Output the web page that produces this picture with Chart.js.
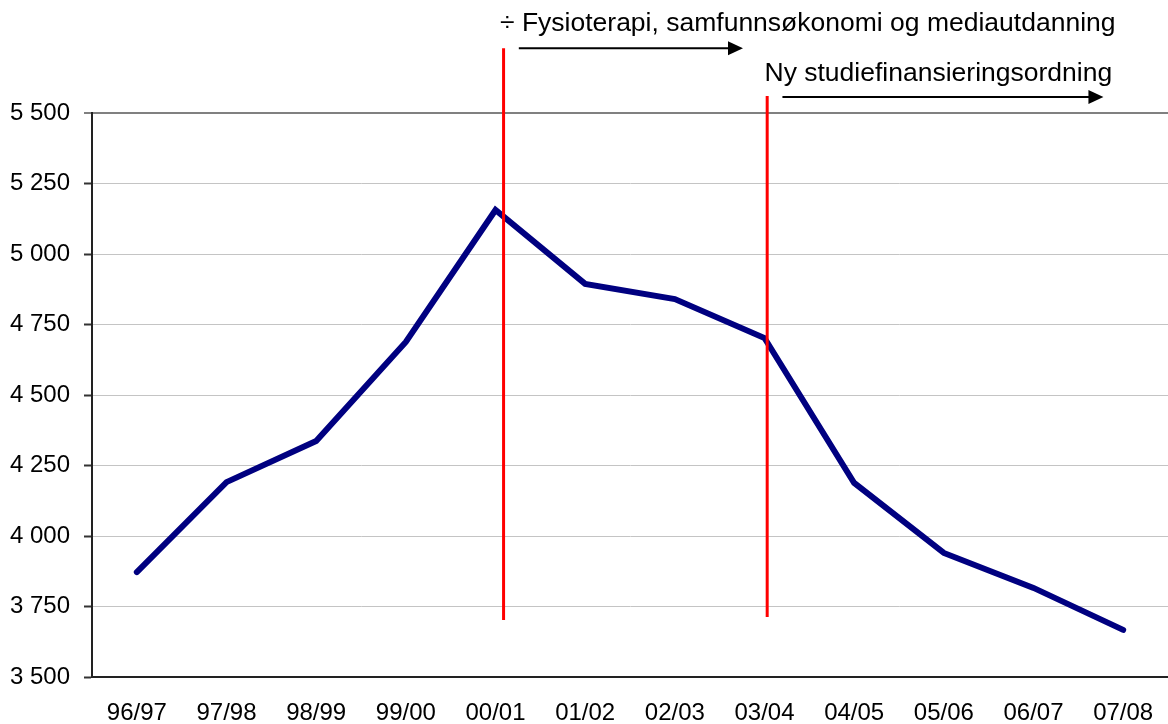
<!DOCTYPE html>
<html>
<head>
<meta charset="utf-8">
<script src="https://cdn.jsdelivr.net/npm/chart.js@4.4.0/dist/chart.umd.min.js"></script>
<style>
  html, body { margin: 0; padding: 0; background: #fff; }
  canvas { display: block; }
</style>
</head>
<body>
<canvas id="line-chart" width="1168" height="724"></canvas>
<script>
// school years
var years = ['96/97','97/98','98/99','99/00','00/01','01/02','02/03','03/04','04/05','05/06','06/07','07/08'];
// number of applicants
var applicants = [3872, 4191, 4337, 4688, 5156, 4894, 4840, 4702, 4188, 3940, 3816, 3667];
var yTicks = [3500, 3750, 4000, 4250, 4500, 4750, 5000, 5250, 5500];

// red marker lines: category position, from value, to value
var markerAt = [4.09, 7.03];
var markerTop = [5730, 5560];
var markerBottom = [3702, 3713];

// annotation texts and arrows (x in category units, y in axis values)
var noteTexts = ['\u00f7 Fysioterapi, samfunns\u00f8konomi og mediautdanning', 'Ny studiefinansieringsordning'];
var noteTextX = [4.05, 7.0];
var noteTextY = [5815, 5640];
var arrowFrom = [4.26, 7.20];
var arrowTo = [6.76, 10.78];
var arrowY = [5730, 5557];

var FONT = '"Liberation Sans", Arial, sans-serif';

var notes = {
  id: 'notes',
  afterDraw: function(chart) {
    var ctx = chart.ctx;
    var xs = chart.scales.x, ys = chart.scales.y;
    ctx.save();
    // red lines
    ctx.strokeStyle = '#ff0000';
    ctx.lineWidth = 3;
    markerAt.forEach(function(m, i) {
      var x = xs.getPixelForValue(m);
      ctx.beginPath();
      ctx.moveTo(x, ys.getPixelForValue(markerTop[i]));
      ctx.lineTo(x, ys.getPixelForValue(markerBottom[i]));
      ctx.stroke();
    });
    // arrows
    ctx.strokeStyle = '#000';
    ctx.fillStyle = '#000';
    ctx.lineWidth = 2;
    arrowFrom.forEach(function(a, i) {
      var x1 = xs.getPixelForValue(a);
      var x2 = xs.getPixelForValue(arrowTo[i]);
      var y = ys.getPixelForValue(arrowY[i]);
      ctx.beginPath();
      ctx.moveTo(x1, y);
      ctx.lineTo(x2 - 12, y);
      ctx.stroke();
      ctx.beginPath();
      ctx.moveTo(x2, y);
      ctx.lineTo(x2 - 15, y - 7);
      ctx.lineTo(x2 - 15, y + 7);
      ctx.closePath();
      ctx.fill();
    });
    // texts
    ctx.font = '26.5px ' + FONT;
    ctx.textAlign = 'left';
    ctx.textBaseline = 'middle';
    noteTexts.forEach(function(t, i) {
      ctx.fillText(t, xs.getPixelForValue(noteTextX[i]), ys.getPixelForValue(noteTextY[i]));
    });
    ctx.restore();
  }
};

var ctx = document.getElementById('line-chart');
var myChart = new Chart(ctx, {
  type: 'line',
  data: {
    labels: years,
    datasets: [{
      data: applicants,
      borderColor: '#000080',
      borderWidth: 6,
      borderCapStyle: 'round',
      borderJoinStyle: 'miter',
      pointRadius: 0,
      tension: 0,
      fill: false
    }]
  },
  plugins: [notes],
  options: {
    responsive: false,
    animation: false,
    layout: { padding: { top: 113, right: 0, left: 0, bottom: 0 } },
    plugins: {
      legend: { display: false },
      tooltip: { enabled: false }
    },
    scales: {
      x: {
        offset: true,
        grid: { display: false, drawTicks: false },
        border: { display: true, color: '#222', width: 2 },
        ticks: { color: '#000', font: { size: 24, family: FONT }, padding: 22, maxRotation: 0, autoSkip: false },
        afterFit: function(s) {
          s.height = 47;
          s.paddingLeft = 0;
          s.paddingRight = 0;
        }
      },
      y: {
        min: 3500,
        max: 5500,
        afterBuildTicks: function(s) { s.ticks = yTicks.map(function(v) { return { value: v }; }); },
        grid: {
          color: function(c) { return c.tick && c.tick.value === 5500 ? '#808080' : '#c4c4c4'; },
          lineWidth: function(c) { return c.tick && c.tick.value === 5500 ? 2 : 1; },
          tickColor: function(c) { return c.tick && c.tick.value === 5500 ? '#808080' : '#333'; },
          tickLength: 8,
          tickWidth: 2
        },
        border: { display: true, color: '#222', width: 2 },
        ticks: {
          color: '#000',
          font: { size: 24, family: FONT },
          padding: 14,
          callback: function(v) {
            return Math.floor(v / 1000) + ' ' + String(v % 1000).padStart(3, '0');
          }
        },
        afterFit: function(s) { s.width = 92; }
      }
    }
  }
});
</script>
</body>
</html>
